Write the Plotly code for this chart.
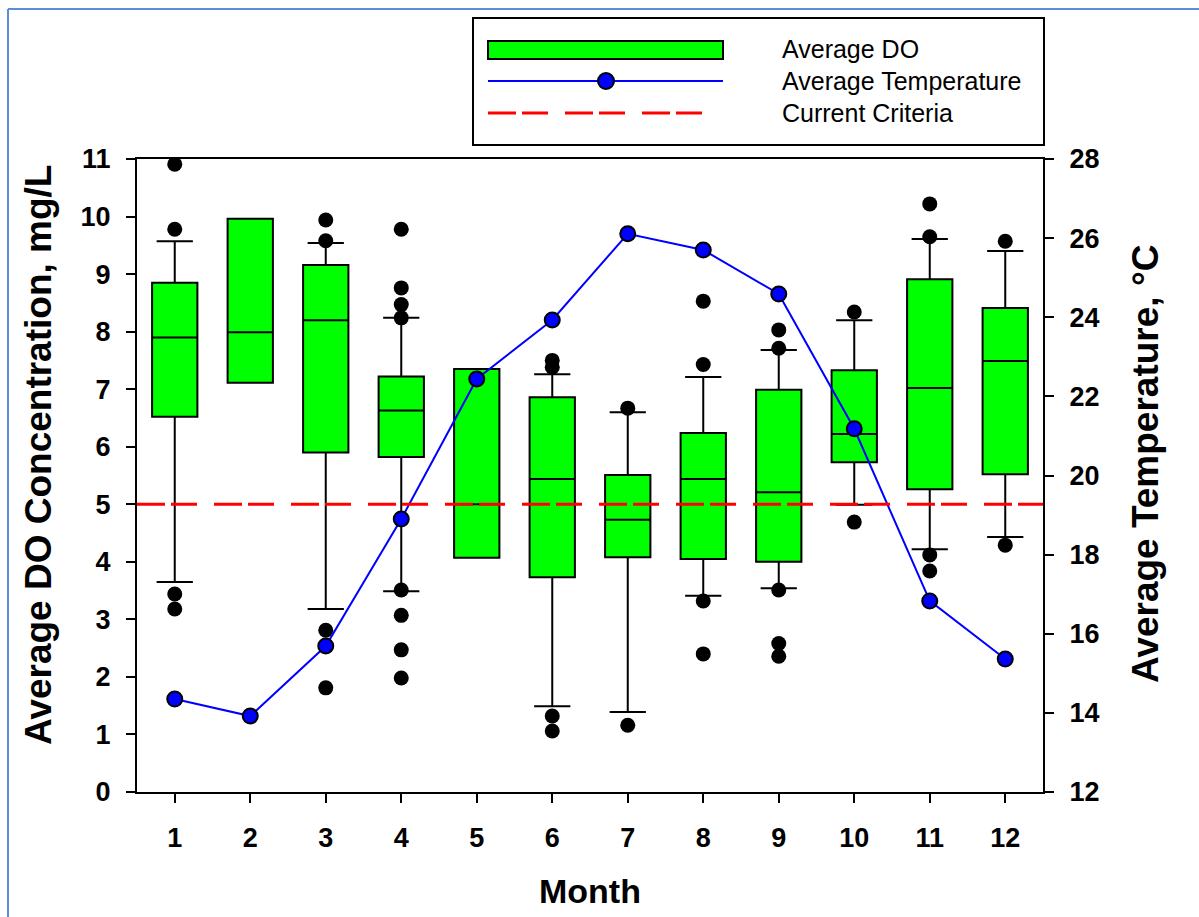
import plotly.graph_objects as go

# Monthly dissolved-oxygen summary (mg/L)
months = [1, 2, 3, 4, 5, 6, 7, 8, 9, 10, 11, 12]
do_q1 = [6.52, 7.11, 5.90, 5.82, 4.07, 3.73, 4.08, 4.05, 4.00, 5.73, 5.26, 5.52]
do_median = [7.90, 7.99, 8.20, 6.63, 5.00, 5.44, 4.73, 5.44, 5.21, 6.22, 7.02, 7.49]
do_q3 = [8.85, 9.96, 9.16, 7.22, 7.35, 6.86, 5.51, 6.24, 6.99, 7.33, 8.91, 8.41]
do_low_whisker = [3.65, 7.11, 3.18, 3.49, 4.07, 1.49, 1.39, 3.41, 3.54, 4.99, 4.22, 4.43]
do_high_whisker = [9.57, 9.96, 9.54, 8.24, 7.35, 7.26, 6.60, 7.21, 7.68, 8.20, 9.61, 9.40]

# Individual outlying observations (month, mg/L)
outlier_month = [1, 1, 1, 1,
                 3, 3, 3, 3,
                 4, 4, 4, 4, 4, 4, 4, 4,
                 6, 6, 6, 6,
                 7, 7,
                 8, 8, 8, 8,
                 9, 9, 9, 9, 9,
                 10, 10,
                 11, 11, 11, 11,
                 12, 12]
outlier_do = [10.91, 9.78, 3.44, 3.18,
              9.94, 9.58, 2.81, 1.81,
              9.78, 8.76, 8.47, 8.24, 3.51, 3.07, 2.47, 1.98,
              7.50, 7.38, 1.32, 1.06,
              6.67, 1.16,
              8.53, 7.43, 3.32, 2.40,
              8.03, 7.71, 3.51, 2.58, 2.36,
              8.34, 4.69,
              10.22, 9.65, 4.12, 3.84,
              9.57, 4.29]

# Monthly mean water temperature (°C)
avg_temp = [14.35, 13.92, 15.69, 18.90, 22.44, 23.93, 26.11, 25.70, 24.59, 21.18, 16.83, 15.36]

# DO criterion (mg/L)
criteria = 5.0

month_ticks = [str(m) for m in months]
do_ticks = list(range(0, 12))
temp_ticks = list(range(12, 30, 2))

FONT = "Arial, Liberation Sans, sans-serif"
W, H = 1199, 917
L, R, T, B = 137, 156, 159, 125
PW, PH = W - L - R, H - T - B


def px_x(p):
    return (p - L) / PW


def px_y(p):
    return (H - B - p) / PH


fig = go.Figure()

fig.add_trace(go.Box(
    x=months, q1=do_q1, median=do_median, q3=do_q3,
    lowerfence=do_low_whisker, upperfence=do_high_whisker,
    width=0.6, whiskerwidth=0.8, boxpoints=False,
    fillcolor="#00ff00", line=dict(color="black", width=2),
    name="Average DO", showlegend=False, hoverinfo="skip",
))

fig.add_trace(go.Scatter(
    x=outlier_month, y=outlier_do, mode="markers",
    marker=dict(color="black", size=15, line=dict(width=0)),
    showlegend=False, hoverinfo="skip",
))

fig.add_trace(go.Scatter(
    x=months, y=avg_temp, yaxis="y2", mode="lines+markers",
    line=dict(color="#0000ff", width=2),
    marker=dict(color="#0000ff", size=15, line=dict(color="black", width=2)),
    name="Average Temperature", showlegend=False, hoverinfo="skip",
))

shapes = [
    # criterion line
    dict(type="line", xref="x domain", yref="y", x0=0, x1=1, y0=criteria, y1=criteria,
         line=dict(color="#ff0000", width=3, dash="28px,6px,26px,17px"), layer="above"),
    # outer page frame
    dict(type="line", xref="paper", yref="paper", x0=px_x(8), x1=px_x(8), y0=px_y(917), y1=px_y(9),
         line=dict(color="#5b8ed6", width=2)),
    dict(type="line", xref="paper", yref="paper", x0=px_x(8), x1=px_x(1199), y0=px_y(9), y1=px_y(9),
         line=dict(color="#5b8ed6", width=2)),
    # legend box
    dict(type="rect", xref="paper", yref="paper", x0=px_x(473), x1=px_x(1044), y0=px_y(145), y1=px_y(18),
         line=dict(color="black", width=2), fillcolor="white"),
    dict(type="rect", xref="paper", yref="paper", x0=px_x(488), x1=px_x(723), y0=px_y(59), y1=px_y(41),
         line=dict(color="black", width=2), fillcolor="#00ff00"),
    dict(type="line", xref="paper", yref="paper", x0=px_x(488), x1=px_x(723), y0=px_y(81), y1=px_y(81),
         line=dict(color="#0000ff", width=2)),
    dict(type="circle", xref="paper", yref="paper", xsizemode="pixel", ysizemode="pixel",
         xanchor=px_x(606), yanchor=px_y(81), x0=-8, x1=8, y0=-8, y1=8,
         line=dict(color="black", width=2), fillcolor="#0000ff"),
    dict(type="line", xref="paper", yref="paper", x0=px_x(488), x1=px_x(705), y0=px_y(113), y1=px_y(113),
         line=dict(color="#ff0000", width=3, dash="28px,6px,26px,17px")),
]

legend_labels = ["Average DO", "Average Temperature", "Current Criteria"]
legend_rows = [49, 81, 113]
annotations = [
    dict(text=t, x=px_x(780), y=px_y(yy), xref="paper", yref="paper", showarrow=False,
         xanchor="left", yanchor="middle", font=dict(family=FONT, size=25, color="black"))
    for t, yy in zip(legend_labels, legend_rows)
]
annotations += [
    dict(text="Month", x=px_x(590), y=px_y(891), xref="paper", yref="paper", showarrow=False,
         xanchor="center", yanchor="middle",
         font=dict(family=FONT, size=34, color="black", weight="bold")),
    dict(text="Average DO Concentration, mg/L", x=px_x(38), y=px_y(455), xref="paper", yref="paper",
         showarrow=False, textangle=-90, xanchor="center", yanchor="middle",
         font=dict(family=FONT, size=37, color="black", weight="bold")),
    dict(text="Average Temperature, °C", x=px_x(1145), y=px_y(464), xref="paper", yref="paper",
         showarrow=False, textangle=-90, xanchor="center", yanchor="middle",
         font=dict(family=FONT, size=37, color="black", weight="bold")),
]

tick_font = dict(family=FONT, size=27, color="black", weight="bold")

fig.update_layout(
    width=W, height=H,
    margin=dict(l=L, r=R, t=T, b=B, pad=0),
    paper_bgcolor="white", plot_bgcolor="white",
    showlegend=False,
    xaxis=dict(range=[0.5, 12.5], tickmode="array", tickvals=months, ticktext=month_ticks,
               showgrid=False, zeroline=False, showline=True, linecolor="black", linewidth=2,
               mirror=True, ticks="outside", ticklen=9, tickwidth=2, tickcolor="black",
               tickfont=tick_font, ticklabelstandoff=12, automargin=False),
    yaxis=dict(range=[0, 11], tickmode="array", tickvals=do_ticks,
               showgrid=False, zeroline=False, showline=True, linecolor="black", linewidth=2,
               ticks="outside", ticklen=9, tickwidth=2, tickcolor="black",
               tickfont=tick_font, ticklabelstandoff=10, automargin=False),
    yaxis2=dict(range=[12, 28], tickmode="array", tickvals=temp_ticks, overlaying="y", side="right",
                showgrid=False, zeroline=False, showline=True, linecolor="black", linewidth=2,
                ticks="outside", ticklen=9, tickwidth=2, tickcolor="black",
                tickfont=tick_font, ticklabelstandoff=10, automargin=False),
    shapes=shapes,
    annotations=annotations,
)

fig.write_html("out.html")
